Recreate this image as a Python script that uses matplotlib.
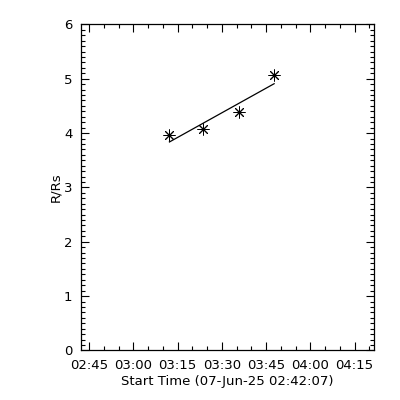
import numpy as np
import matplotlib
matplotlib.use("Agg")
import matplotlib.pyplot as plt
from matplotlib.ticker import MultipleLocator, FixedLocator

# Data: time in minutes since 00:00 on 07-Jun-25, height in solar radii
times_min = [192.2, 203.7, 215.9, 227.7]
heights = [3.97, 4.07, 4.38, 5.06]

tick_minutes = [165, 180, 195, 210, 225, 240, 255]
tick_labels = ["02:45", "03:00", "03:15", "03:30", "03:45", "04:00", "04:15"]

start_min = 2 * 60 + 42 + 7 / 60.0
end_min = 261.7

fig = plt.figure(figsize=(4, 4), dpi=100)
ax = fig.add_axes([0.2018, 0.124, 0.936 - 0.2018, 0.939 - 0.124])

x = np.array(times_min)
y = np.array(heights)
ax.plot(x, y, linestyle="none", marker=(8, 2, 0), markersize=8.5,
        markeredgewidth=0.7, color="black")
coef = np.polyfit(x, y, 1)
ax.plot(x[[0, -1]], np.polyval(coef, x[[0, -1]]), color="black", lw=0.9)

ax.set_xlim(start_min, end_min)
ax.set_ylim(0, 6)
ax.xaxis.set_major_locator(FixedLocator(tick_minutes))
ax.set_xticklabels(tick_labels)
ax.xaxis.set_minor_locator(MultipleLocator(5))
ax.yaxis.set_major_locator(MultipleLocator(1))
ax.yaxis.set_minor_locator(MultipleLocator(0.1))

ax.tick_params(which="both", direction="in", top=True, right=True,
               labelsize=9.5, width=0.8, colors="black")
ax.tick_params(which="major", length=6, pad=6)
ax.tick_params(axis="y", which="major", pad=6)
ax.tick_params(which="minor", length=3)
for s in ax.spines.values():
    s.set_linewidth(0.9)

ax.set_xlabel("Start Time (07-Jun-25 02:42:07)", fontsize=9.5, labelpad=2)
ax.set_ylabel("R/Rs", fontsize=9.5, labelpad=1)

fig.savefig("out.png", dpi=100, facecolor="white")
